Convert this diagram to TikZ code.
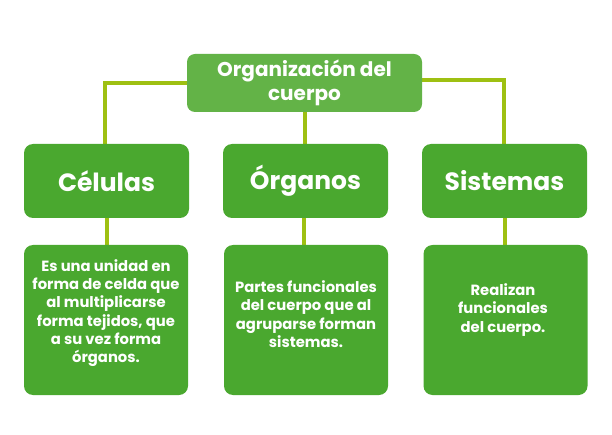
\documentclass[tikz,border=0pt]{standalone}
\usepackage{fontspec}
\setmainfont{Poppins}
\usetikzlibrary{backgrounds}
\definecolor{topgreen}{HTML}{63B347}
\definecolor{boxgreen}{HTML}{4AA82F}
\definecolor{linegreen}{HTML}{9EC012}
\tikzset{
  topbox/.style={rectangle, rounded corners=8pt, fill=topgreen, minimum width=235pt, minimum height=58pt, inner sep=0pt},
  headbox/.style={rectangle, rounded corners=9pt, fill=boxgreen, minimum width=165pt, minimum height=74pt, inner sep=0pt, text=white, font=\bfseries\fontsize{25}{28}\selectfont},
  descbox/.style={rectangle, rounded corners=9pt, fill=boxgreen, minimum width=164pt, minimum height=150pt, inner sep=0pt},
  desctext/.style={text=white, align=center, font=\bfseries\fontsize{14.8}{18.3}\selectfont, inner sep=0pt},
  toptext/.style={text=white, align=center, font=\bfseries\fontsize{20}{24}\selectfont, inner sep=0pt},
  conn/.style={draw=linegreen, line width=4pt}
}
\begin{document}
\begin{tikzpicture}[x=1pt,y=-1pt]
\useasboundingbox (0,0) rectangle (612,435);
\node[topbox] (top) at (304.5,83) {};
\node[toptext] (tt) at (304.5,83) {Organización del\\cuerpo};
\node[headbox] (h1) at (106.5,181) {Células};
\node[headbox] (h2) at (305.5,181) {Órganos};
\node[headbox] (h3) at (504.5,181) {Sistemas};
\node[descbox] (d1) at (106,320) {};
\node[descbox] (d2) at (306,320) {};
\node[descbox] (d3) at (505.5,320) {};
\node[desctext] (t1) at (106,313) {Es una unidad en\\forma de celda que\\al multiplicarse\\forma tejidos, que\\a su vez forma\\órganos.};
\node[desctext] (t2) at (306,314) {Partes funcionales\\del cuerpo que al\\agruparse forman\\sistemas.};
\node[desctext] (t3) at (503,310) {Realizan\\funcionales\\del cuerpo.};
\coordinate (lc) at (105,83);
\coordinate (rc) at (504,80);
\coordinate (m1) at (107,200);
\coordinate (m2) at (304,200);
\coordinate (m3) at (505,200);
\begin{pgfonlayer}{background}
\draw[conn] (top.west |- lc) -- (lc) -- (lc |- h1.north);
\draw[conn] (top.east |- rc) -- (rc) -- (rc |- h3.north);
\draw[conn] (top.south) -- (top.south |- h2.north);
\draw[conn] (m1 |- h1.south) -- (m1 |- d1.north);
\draw[conn] (m2 |- h2.south) -- (m2 |- d2.north);
\draw[conn] (m3 |- h3.south) -- (m3 |- d3.north);
\end{pgfonlayer}
\end{tikzpicture}
\end{document}
